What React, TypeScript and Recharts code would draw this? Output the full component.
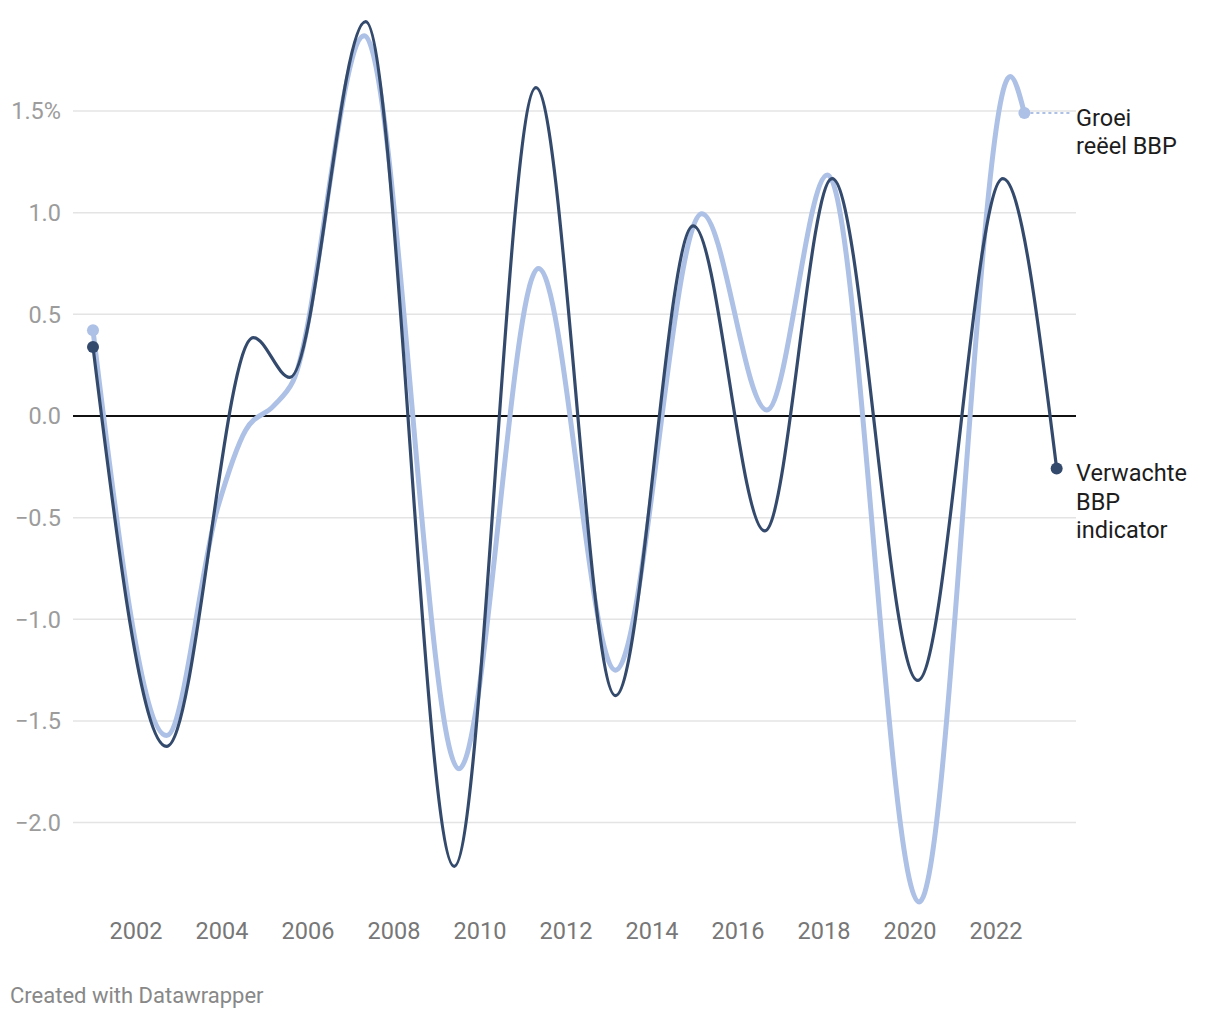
import React from 'react';
import { LineChart, Line, XAxis, YAxis, ReferenceLine } from 'recharts';

// Verwachte BBP indicator (dark)
const darkYears = [2001.0, 2002.71, 2004.73, 2005.58, 2007.34, 2009.4, 2011.3, 2013.15, 2014.96, 2016.62, 2018.19, 2020.18, 2022.16, 2023.41];
const darkValues = [0.34, -1.625, 0.386, 0.19, 1.94, -2.215, 1.615, -1.375, 0.935, -0.565, 1.168, -1.3, 1.168, -0.258];

// Groei reëel BBP (light)
const lightYears = [2001.0, 2002.71, 2003.9, 2004.55, 2005.2, 2005.65, 2007.31, 2009.51, 2011.36, 2013.15, 2015.16, 2016.67, 2018.08, 2020.21, 2022.33, 2022.66];
const lightValues = [0.422, -1.572, -0.45, -0.07, 0.05, 0.17, 1.87, -1.735, 0.725, -1.25, 0.995, 0.03, 1.185, -2.39, 1.67, 1.49];

const xTicks = [2002, 2004, 2006, 2008, 2010, 2012, 2014, 2016, 2018, 2020, 2022];
const yTicks = [-2, -1.5, -1, -0.5, 0, 0.5, 1, 1.5];

const lightLabel = ['Groei', 'reëel BBP'];
const darkLabel = ['Verwachte', 'BBP', 'indicator'];

const DARK = '#344a6d';
const LIGHT = '#adc0e5';
const FONT = 'Roboto, sans-serif';

const darkData = darkYears.map((x, i) => ({ x, v: darkValues[i] }));
const lightData = lightYears.map((x, i) => ({ x, v: lightValues[i] }));

const fmtY = (v: number) => {
  const s = Math.abs(v).toFixed(1);
  const t = v < 0 ? '\u2212' + s : s;
  return v === 1.5 ? t + '%' : t;
};

const makeDot = (color: string, len: number, label: string[], dotted: boolean) => (props: any) => {
  const { cx, cy, index } = props;
  if (index !== 0 && index !== len - 1) return <g key={`d${index}`} />;
  if (index === 0) return <circle key={`d${index}`} cx={cx} cy={cy} r={6} fill={color} />;
  const labelX = 1076;
  return (
    <g key={`d${index}`}>
      {dotted && (
        <line x1={cx} y1={cy} x2={labelX - 6} y2={cy} stroke={color} strokeWidth={2} strokeDasharray="3 3" />
      )}
      <circle cx={cx} cy={cy} r={6} fill={color} />
      {label.map((t, i) => (
        <text key={i} x={labelX} y={cy + 13 + i * 28.3} fill="#1d1d1d" fontSize={23.5} fontFamily={FONT}>
          {t}
        </text>
      ))}
    </g>
  );
};

export default function App() {
  return (
    <div style={{ position: 'absolute', left: 0, top: 0, width: 1220, height: 1020, background: '#fff', fontFamily: FONT }}>
      <LineChart
        width={1220}
        height={1020}
        margin={{ top: 9.4, right: 144, bottom: 65.9, left: 0 }}
      >
        <XAxis
          dataKey="x"
          type="number"
          domain={[2000.535, 2023.86]}
          ticks={xTicks}
          allowDuplicatedCategory={false}
          axisLine={false}
          tickLine={false}
          tickSize={0}
          tickMargin={8}
          height={40}
          tick={{ fill: '#777', fontSize: 23.5, fontFamily: FONT }}
        />
        <YAxis
          type="number"
          domain={[-2.45, 2.0]}
          ticks={yTicks}
          width={73}
          axisLine={false}
          tickLine={false}
          tickSize={0}
          tickMargin={12}
          tickFormatter={fmtY}
          tick={{ fill: '#9c9c9c', fontSize: 23.5, fontFamily: FONT }}
        />
        {yTicks.filter((v) => v !== 0).map((v) => (
          <ReferenceLine key={`g${v}`} y={v} stroke="#e4e4e4" strokeWidth={1.5} />
        ))}
        <ReferenceLine y={0} stroke="#111" strokeWidth={1.8} />
        <Line
          data={lightData}
          dataKey="v"
          type="monotone"
          stroke={LIGHT}
          strokeWidth={5}
          dot={makeDot(LIGHT, lightData.length, lightLabel, true)}
          activeDot={false}
          isAnimationActive={false}
        />
        <Line
          data={darkData}
          dataKey="v"
          type="monotone"
          stroke={DARK}
          strokeWidth={3.2}
          dot={makeDot(DARK, darkData.length, darkLabel, false)}
          activeDot={false}
          isAnimationActive={false}
        />
      </LineChart>
      <div
        style={{
          position: 'absolute',
          left: 10,
          top: 985,
          fontSize: 22,
          lineHeight: '22px',
          color: '#888',
          fontFamily: FONT,
          whiteSpace: 'nowrap',
        }}
      >
        Created with Datawrapper
      </div>
    </div>
  );
}
